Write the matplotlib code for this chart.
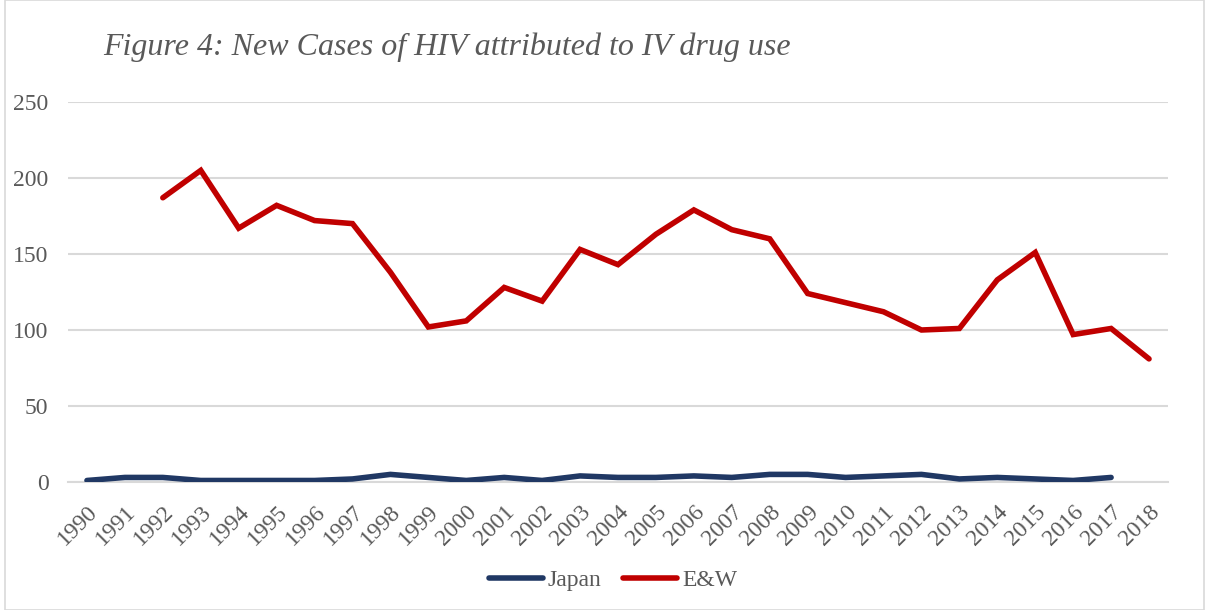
import matplotlib
matplotlib.use("Agg")
import matplotlib.pyplot as plt
from matplotlib.patches import Rectangle

years = [str(y) for y in range(1990, 2019)]
japan = [1, 3, 3, 1, 1, 1, 1, 2, 5, 3, 1, 3, 1, 4, 3, 3, 4, 3, 5, 5, 3, 4, 5, 2, 3, 2, 1, 3]
ew_years = years[2:]
ew = [187, 205, 167, 182, 172, 170, 138, 102, 106, 128, 119, 153, 143, 163, 179,
      166, 160, 124, 118, 112, 100, 101, 133, 151, 97, 101, 81]
yticks = [0, 50, 100, 150, 200, 250]

plt.rcParams['font.family'] = ['Liberation Serif', 'DejaVu Serif']
gray = '#595959'

fig = plt.figure(figsize=(12.08, 6.10), dpi=100)
ax = fig.add_axes([68/1208, 1-482/610, 1100/1208, 380/610])

xj = list(range(len(japan)))
xe = [years.index(y) for y in ew_years]
ax.plot(xj, japan, color='#203864', lw=4.0, solid_capstyle='round', solid_joinstyle='miter', label='Japan', zorder=3)
ax.plot(xe, ew, color='#C00000', lw=4.0, solid_capstyle='round', solid_joinstyle='miter', label='E&W', zorder=3)

ax.set_xlim(-0.5, len(years) - 0.5)
ax.set_ylim(0, 250)
ax.set_yticks(yticks)
ax.set_yticklabels([str(v) for v in yticks])
ax.set_xticks(range(len(years)))
ax.set_xticklabels(years, rotation=45, ha='right', va='top', rotation_mode='anchor')
ax.tick_params(axis='both', length=0, colors=gray, labelsize=17)
ax.tick_params(axis='y', pad=14)
ax.tick_params(axis='x', pad=14)
ax.grid(axis='y', color='#D9D9D9', lw=1.5, zorder=0)
ax.set_axisbelow(True)
for s in ax.spines.values():
    s.set_visible(False)
ax.axhline(0, color='#D9D9D9', lw=1.5, zorder=1, clip_on=False)

fig.text(103/1208, 1-47/610, 'Figure 4: New Cases of HIV attributed to IV drug use',
         fontsize=23, style='italic', color=gray, va='center', ha='left')

leg = fig.legend(loc='center', bbox_to_anchor=(613/1208, 1-580/610), ncol=2, frameon=False,
                 fontsize=17, handlelength=2.3, columnspacing=0.9, handletextpad=0.2)
for t in leg.get_texts():
    t.set_color(gray)

fig.patches.append(Rectangle((5/1208, 0), 1199/1208, 1, transform=fig.transFigure,
                             fill=False, edgecolor='#D9D9D9', lw=1.2))

fig.savefig('out.png', dpi=100)
